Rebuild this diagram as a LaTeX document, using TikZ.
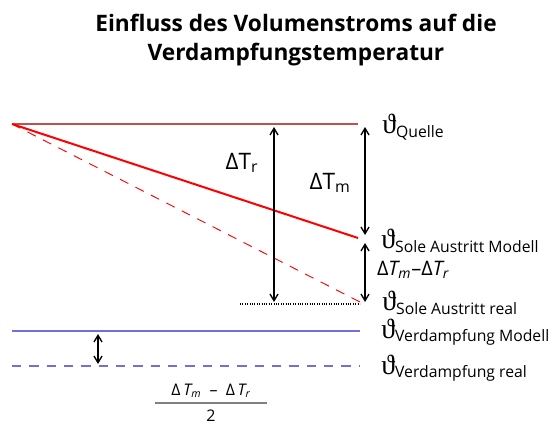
\documentclass[tikz,border=0pt]{standalone}
\usepackage{amsmath}
\usepackage{fontspec}
\setmainfont{Open Sans}
\newfontfamily\symfont{Liberation Serif}
\usetikzlibrary{arrows.meta, positioning}
\definecolor{quelle}{RGB}{192,80,77}
\definecolor{verdampf}{RGB}{112,112,214}
\newcommand{\thlab}[1]{{\symfont\fontsize{21}{21}\selectfont ϑ}\raisebox{-0.5ex}{\fontsize{11.8}{12}\selectfont #1}}

\begin{document}
\begin{tikzpicture}[x=0.75pt, y=-0.75pt, >={Straight Barb[length=5pt,width=6pt]}]
  \useasboundingbox (0,0) rectangle (553,425);

  % Titel
  \node[font=\bfseries\fontsize{17}{22}\selectfont, align=center] (titel) at (296,40)
    {Einfluss des Volumenstroms auf die\\Verdampfungstemperatur};

  % Punkte der Linien
  \coordinate (start) at (12,124);
  \coordinate (quelleE) at (358,124);
  \coordinate (modellE) at (358,238);
  \coordinate (realE) at (360,302);
  \coordinate (dotA) at (240,304);
  \coordinate (dotE) at (360,304);

  % Temperaturverlauf Sole
  \draw[quelle, line width=0.9pt] (start) -- (quelleE);
  \draw[red, line width=1.5pt] (start) -- (modellE);
  \draw[red, dash pattern=on 7pt off 6pt, line width=0.7pt] (start) -- (realE);
  \draw[densely dotted, line width=0.8pt] (dotA) -- (dotE);

  % Verdampfung
  \draw[verdampf, line width=0.8pt] (12,331) coordinate (vmA) -- (360,331) coordinate (vmE);
  \draw[verdampf, line width=0.8pt, dash pattern=on 7pt off 6pt] (12,366) coordinate (vrA) -- (360,366) coordinate (vrE);

  % Pfeile
  \draw[<->, line width=1pt] (274,127) coordinate (trO) -- (274,302) coordinate (trU);
  \draw[<->, line width=1pt] (365,127) coordinate (tmO) -- (365,235) coordinate (tmU);
  \draw[<->, line width=1pt] (365,243) coordinate (dO) -- (365,302) coordinate (dU);
  \draw[<->, line width=1pt] (98,334) coordinate (vO) -- (98,364) coordinate (vU);

  % Beschriftungen Pfeile
  \node[font=\fontsize{17}{17}\selectfont] (dtr) at (242,163) {ΔT\textsubscript{r}};
  \node[font=\fontsize{17}{17}\selectfont] (dtm) at (330,183) {ΔT\textsubscript{m}};
  \node[font=\fontsize{15}{15}\selectfont] (diff) at (413,270)
    {Δ\textit{T\textsubscript{m}}–Δ\textit{T\textsubscript{r}}};

  % Temperaturen rechts
  \node[anchor=west, inner sep=0pt] (thq) at (382,127) {\thlab{Quelle}};
  \node[anchor=west, inner sep=0pt] (thsm) at (381,241) {\thlab{Sole Austritt Modell}};
  \node[anchor=west, inner sep=0pt] (thsr) at (382,303) {\thlab{Sole Austritt real}};
  \node[anchor=west, inner sep=0pt] (thvm) at (381,332) {\thlab{Verdampfung Modell}};
  \node[anchor=west, inner sep=0pt] (thvr) at (381,368) {\thlab{Verdampfung real}};

  % Bruch
  \node[font=\fontsize{12}{12}\selectfont] (zaehler) at (211,391)
    {Δ\,\textit{T\textsubscript{m}}\ \ –\ \ Δ\,\textit{T\textsubscript{r}}};
  \node[font=\fontsize{12}{12}\selectfont, inner sep=0pt] (nenner) at (211,416) {2};
  \draw[gray, line width=1pt] (155,403) coordinate (bruchA) -- (267,403) coordinate (bruchE);
\end{tikzpicture}
\end{document}
